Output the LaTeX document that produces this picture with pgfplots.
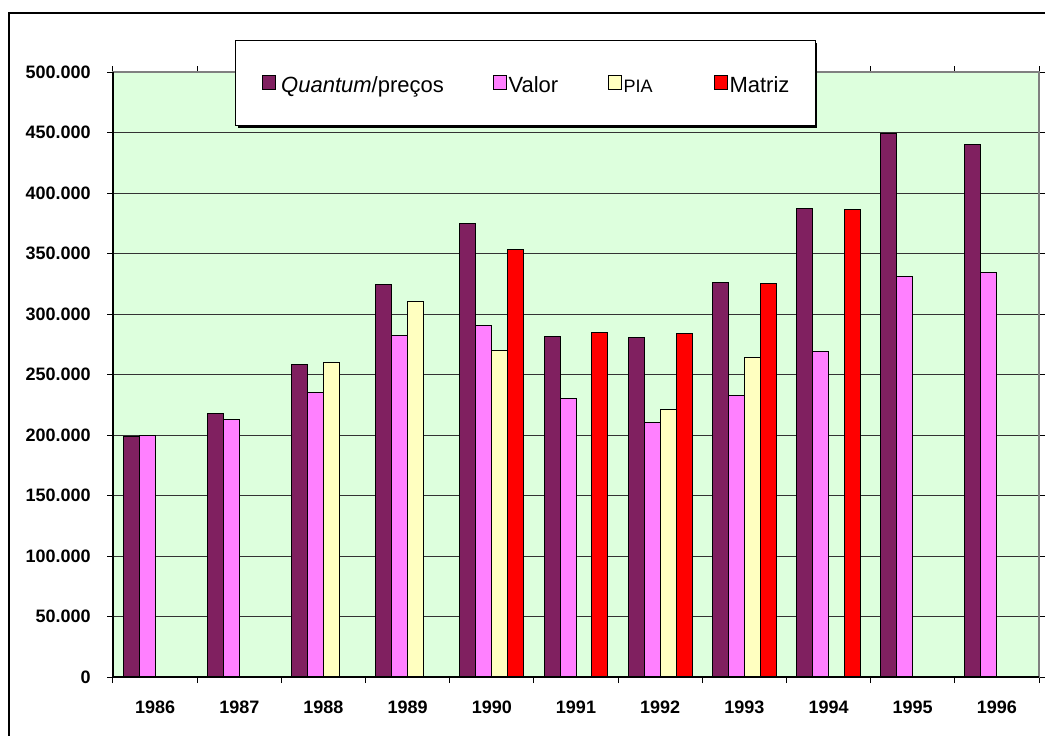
\documentclass[border=0pt]{standalone}
\usepackage{fontspec}
\setmainfont{Liberation Sans}
\usepackage{pgfplots}
\pgfplotsset{compat=1.18}
\definecolor{cQ}{RGB}{128,32,96}
\definecolor{cV}{RGB}{255,128,255}
\definecolor{cP}{RGB}{255,255,192}
\definecolor{cM}{RGB}{255,0,0}
\definecolor{bg}{RGB}{221,255,221}
\begin{document}
\begin{tikzpicture}
\useasboundingbox (0,0) rectangle (522.5pt,367.5pt);
\draw[line width=1pt] (4.5pt,-10pt) -- (4.5pt,361pt) -- (540pt,361pt);
\begin{axis}[
  at={(56.5pt,29pt)}, anchor=south west, scale only axis,
  width=463pt, height=302.5pt, clip=false,
  xmin=-0.5, xmax=10.5, ymin=0, ymax=500000,
  ybar=0pt, bar width=0.19,
  axis background/.style={fill=bg},
  axis line style={draw=gray, line width=0.6pt},
  xtick={-0.5,0.5,...,10.5}, xticklabels={},
  extra x ticks={0,1,2,3,4,5,6,7,8,9,10},
  extra x tick labels={1986,1987,1988,1989,1990,1991,1992,1993,1994,1995,1996},
  extra x tick style={major tick length=0pt},
  ytick={0,50000,100000,150000,200000,250000,300000,350000,400000,450000,500000},
  tick align=outside, major tick length=3pt,
  tick style={black, line width=0.5pt},
  ymajorgrids, major grid style={black!80, line width=0.5pt},
  scaled y ticks=false,
  /pgf/number format/fixed,
  /pgf/number format/1000 sep={.},
  /pgf/number format/assume math mode=true,
  ticklabel style={font=\bfseries\fontsize{9}{10}\selectfont},
  yticklabel style={inner sep=0pt, xshift=-8pt},
  xticklabel style={yshift=-8.5pt},
  every axis plot/.append style={draw=black, line width=0.5pt},
  legend columns=4,
  legend image code/.code={\draw[#1] (0pt,-3.5pt) rectangle (6.5pt,3.5pt);},
  legend style={at={(0.1318,1.0529)}, anchor=north west, draw=black, line width=0.5pt,
    fill=white,
    inner xsep=13pt, inner ysep=14pt,
    font=\fontsize{11}{12}\selectfont,
    nodes={inner xsep=1pt, inner ysep=0pt, text height=12pt, text depth=2.5pt},
    /tikz/every even column/.append style={column sep=0pt}},
]
\fill[black] (rel axis cs:0.135,0.9074) rectangle (rel axis cs:0.7603,1.0479);
\addplot[fill=cQ] coordinates {(0,198500) (1,217400) (2,258000) (3,324500) (4,375000) (5,281800) (6,280700) (7,326400) (8,387000) (9,448800) (10,439700)};
\addlegendentry{\makebox[106.5pt][l]{\,\textit{Quantum}/preços}}
\addplot[fill=cV] coordinates {(0,200000) (1,213000) (2,235000) (3,282000) (4,290400) (5,230300) (6,210000) (7,232500) (8,269400) (9,330600) (10,334500)};
\addlegendentry{\makebox[48.5pt][l]{Valor}}
\addplot[fill=cP] coordinates {(2,259800) (3,310000) (4,270000) (6,220700) (7,264000)};
\addlegendentry{\makebox[44pt][l]{\fontsize{9}{10}\selectfont PIA}}
\addplot[fill=cM] coordinates {(4,353000) (5,285000) (6,284000) (7,325300) (8,386000)};
\addlegendentry{\makebox[29pt][l]{Matriz}}
\draw[black, line width=0.6pt] (rel axis cs:0,1) -- (rel axis cs:0,0) -- (rel axis cs:1,0);
\end{axis}
\end{tikzpicture}
\end{document}
